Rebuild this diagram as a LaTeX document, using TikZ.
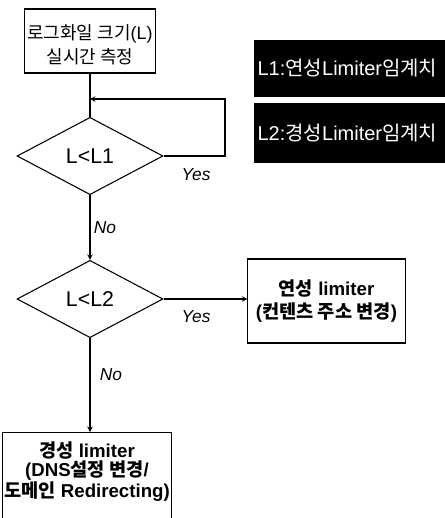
\documentclass[tikz,border=0pt]{standalone}
\usepackage{fontspec}
\setmainfont{Liberation Sans}
\newfontfamily\kr{Noto Sans CJK KR}
\usetikzlibrary{shapes.geometric}

\begin{document}
\begin{tikzpicture}[x=0.75pt,y=-0.75pt,>=stealth,thick,line width=0.8pt,
    proc node/.style={rectangle,draw,align=center,inner sep=1pt},
    dec node/.style={diamond,draw,minimum width=109.5pt,minimum height=58pt,inner sep=0pt,font=\fontsize{16}{18}\selectfont},
    note node/.style={rectangle,fill=black,text=white,anchor=west,align=left,text width=150pt,inner xsep=3pt,font=\fontsize{15}{17}\selectfont},
    lbl/.style={font=\fontsize{13}{15}\selectfont\itshape,inner sep=0pt}]
  \useasboundingbox (0,0) rectangle (444,518);

  % flow chart
  \node[proc node,minimum width=98pt,minimum height=48pt,font=\fontsize{13.5}{18}\selectfont] (meas) at (90,41)
    {\rule{0pt}{17pt}{\kr 로그화일 크기}(L)\\{\kr 실시간 측정}};
  \node[dec node] (d1) at (90,156) {L<L1};
  \node[dec node] (d2) at (90,299) {L<L2};
  \node[proc node,minimum width=118pt,minimum height=63pt,font=\fontsize{14}{17}\selectfont\bfseries] (soft) at (326.5,301)
    {{\kr\bfseries 연성} limiter\\({\kr\bfseries 컨텐츠 주소 변경})};
  \node[proc node,minimum width=121.5pt,inner ysep=0pt,anchor=north,font=\fontsize{14}{14.25}\selectfont\bfseries] (hard) at (87,432)
    {\rule{0pt}{18.5pt}{\kr\bfseries 경성} limiter\\(DNS{\kr\bfseries 설정 변경}/\\{\kr\bfseries 도메인} Redirecting)\\[24pt]\mbox{}};

  % thresholds
  \node[note node,minimum height=43pt] (th1) at (253,68.5) {L1:{\kr 연성}Limiter{\kr 임계치}};
  \node[note node,minimum height=45pt] (th2) at (253,133) {L2:{\kr 경성}Limiter{\kr 임계치}};

  \coordinate (back) at (225,99);
  \node[lbl] (yes1) at (196,175) {Yes};
  \node[lbl] (no1) at (105,228) {No};
  \node[lbl] (yes2) at (196,317) {Yes};
  \node[lbl] (no2) at (111,375) {No};

  \draw (meas) -- (d1);
  \draw[->] (d1.east) -| (back) -- (meas.south |- back);
  \draw[->] (d1) -- (d2);
  \draw[->] (d2.east) -- (d2.east -| soft.west);
  \draw[->] (d2.south) -- (d2.south |- hard.north);
\end{tikzpicture}
\end{document}
